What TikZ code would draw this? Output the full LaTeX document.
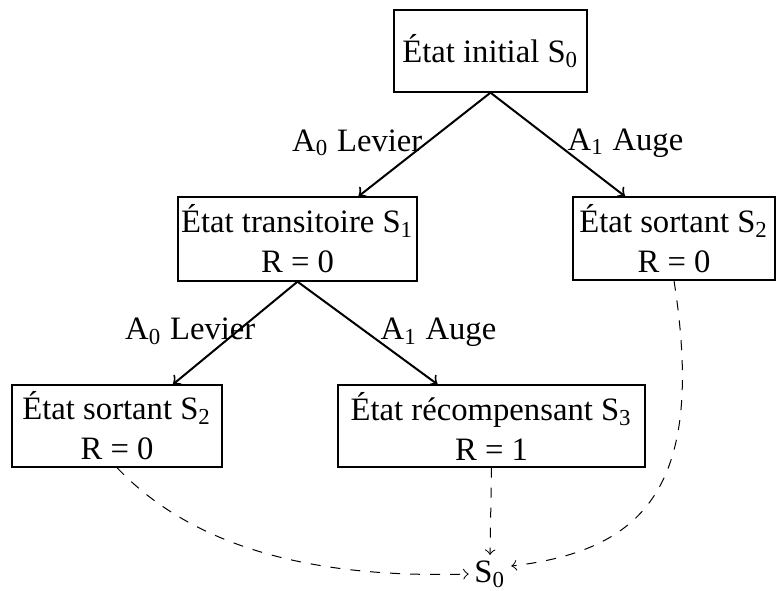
\documentclass[tikz,border=0pt]{standalone}
\usepackage{fontspec}
\setmainfont{Liberation Serif}
\usetikzlibrary{calc}
\newcommand{\sub}[1]{\textsubscript{#1}}
\begin{document}
\begin{tikzpicture}[x=0.3pt,y=-0.3pt,
  font=\fontsize{9.8pt}{12pt}\selectfont,
  box/.style={draw, line width=0.4pt, inner sep=0pt, align=center, minimum height=24.6pt},
  arr/.style={->, semithick},
  darr/.style={->, dashed, line width=0.3pt},
  lab/.style={inner sep=0pt, anchor=base}]
\useasboundingbox (0,0) rectangle (776,590);
\node[box, minimum width=57.9pt] (root) at (490.5,51) {État initial S\sub{0}};
\node[box, minimum width=71.7pt, minimum height=25.2pt] (s1) at (297.5,239) {État transitoire S\sub{1}\\ R = 0};
\node[box, minimum width=60.6pt, minimum height=24.9pt] (s2r) at (674,238.5) {État sortant S\sub{2}\\ R = 0};
\node[box, minimum width=63pt] (s2l) at (117,426) {État sortant S\sub{2}\\ R = 0};
\node[box, minimum width=92.1pt] (s3) at (491.5,426) {État récompensant S\sub{3}\\ R = 1};
\node[inner sep=1.5pt] (s0) at (490,574) {S\sub{0}};
\draw[arr] (root.south) -- ($(s1.north)+(61,0)$) coordinate (t1);
\draw[arr] (root.south) -- ($(s2r.north)+(-49,0)$) coordinate (t2);
\draw[arr] (s1.south) -- ($(s2l.north)+(56,0)$) coordinate (t3);
\draw[arr] (s1.south) -- ($(s3.north)+(-54,0)$) coordinate (t4);
\node[lab, anchor=base east] (l1) at (423,151) {A\sub{0} Levier};
\node[lab, anchor=base west] (l2) at (567,150) {A\sub{1} Auge};
\node[lab, anchor=base east] (l3) at (256,339) {A\sub{0} Levier};
\node[lab, anchor=base west] (l4) at (380,339) {A\sub{1} Auge};
\draw[darr] (s2l.south) .. controls (200,555) and (330,578) .. (s0.west);
\draw[darr] (s3.south) -- (s0.north);
\draw[darr] (s2r.south) .. controls (705,480) and (650,550) .. ($(s0.east)+(0,-8)$);
\end{tikzpicture}
\end{document}
